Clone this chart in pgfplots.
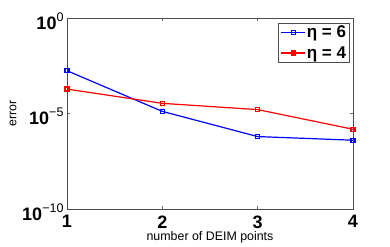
\documentclass[border=0pt]{standalone}
\usepackage{pgfplots}
\pgfplotsset{compat=1.18}
\usepackage{fontspec}
\setmainfont{Liberation Sans}
\newcommand{\tl}[2]{\textbf{#1}\raisebox{8pt}{\fontsize{12.5}{12.5}\selectfont #2}}
\begin{document}
\begin{tikzpicture}
\begin{semilogyaxis}[
  scale only axis,
  width=286pt, height=191pt,
  at={(0,0)}, anchor=south west,
  xmin=1, xmax=4, ymin=1e-10, ymax=1,
  xtick={1,2,3,4},
  xticklabels={\textbf{1},\textbf{2},\textbf{3},\textbf{4}},
  ytick={1e-10,1e-5,1},
  yticklabels={\tl{10}{−10},\tl{10}{−5},\tl{10}{0}},
  yminorticks=false,
  tick label style={font=\fontsize{18}{18}\selectfont},
  xticklabel style={yshift=-3pt},
  yticklabel style={xshift=0pt, yshift=-3pt},
  tick align=inside,
  major tick length=3pt,
  axis line style={draw=black!70},
  every tick/.style={black!60},
  xlabel={number of DEIM points},
  ylabel={error},
  label style={font=\fontsize{12.4}{13}\selectfont},
  xlabel style={yshift=4pt},
  ylabel style={yshift=-1pt},
  legend style={at={(0.987,0.975)}, anchor=north east, font=\fontsize{17}{18}\selectfont\bfseries, draw=black!70, inner sep=2pt, row sep=5pt, nodes={inner sep=1pt}},
  legend image code/.code={
    \draw[mark repeat=2,mark phase=2,#1] plot coordinates {(0pt,0pt) (12pt,0pt) (24pt,0pt)};},
  legend cell align=left,
]
\addplot[blue, line width=1.2pt, mark=square, mark size=2pt] coordinates {
(1,1.74e-3) (2,1.29e-5) (3,6.2e-7) (4,4.0e-7)};
\addlegendentry{η = 6}
\addplot[red, line width=1.2pt, mark=square, mark size=2pt] coordinates {
(1,1.9e-4) (2,3.4e-5) (3,1.6e-5) (4,1.5e-6)};
\addlegendentry{η = 4}
\end{semilogyaxis}
\useasboundingbox (-67pt,-37pt) rectangle (323pt,209pt);
\end{tikzpicture}
\end{document}
